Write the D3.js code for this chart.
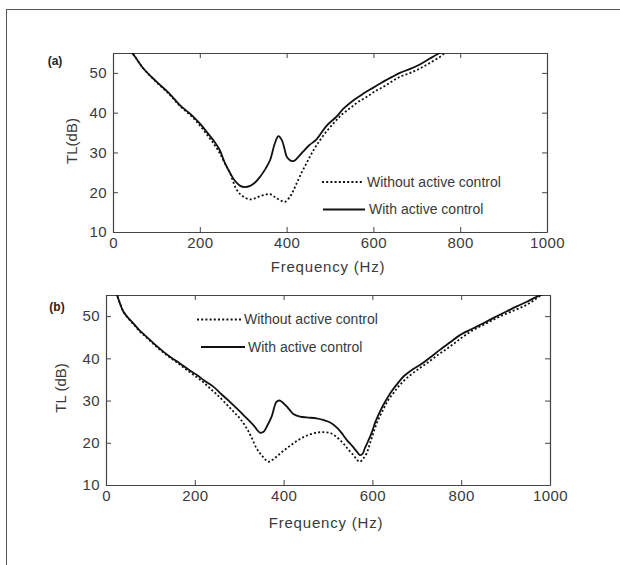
<!DOCTYPE html>
<html>
<head>
<meta charset="utf-8">
<script src="https://cdn.jsdelivr.net/npm/d3@7"></script>
<style>
  html, body { margin: 0; padding: 0; background: #fff; }
  svg { display: block; font-family: "Liberation Sans", Arial, sans-serif; }
</style>
</head>
<body>
<svg id="chart" width="620" height="565"></svg>
<script>
// ---------------- DATA ----------------
const xTicks = [0, 200, 400, 600, 800, 1000];
const yTicks = [10, 20, 30, 40, 50];
const seriesNames = ["Without active control", "With active control"];
const panelLabels = ["(a)", "(b)"];
const yLabels = ["TL(dB)", "TL (dB)"];
const xLabel = "Frequency (Hz)";

// Panel (a)
const freqA_with = [40,50,70,100,130,154,180,200,215,231,245,258,270,280,293,304,316,328,339,352,362,373,381,389,395,400,408,417,428,438,452,469,492,515,531,555,577,600,623,645,661,685,707,730,753,770];
const tlA_with   = [55.5,54.2,51.1,47.8,44.8,41.9,39.5,37.3,35.3,33.1,30.8,27.3,24.8,23.0,21.6,21.3,21.6,22.5,23.9,26.0,28.1,32.3,34.1,33.1,31.0,29.0,28.0,27.9,29.0,30.2,31.8,33.3,36.7,39.0,41.0,43.2,44.8,46.3,47.8,49.1,50.0,51.0,52.1,53.6,55.0,55.8];
const freqA_without = [40,50,70,100,130,154,180,200,220,235,246,258,270,285,300,316,328,339,352,362,370,377,387,396,408,415,423,434,446,458,469,487,508,527,546,565,585,604,623,642,661,685,707,730,753,765,775];
const tlA_without   = [55.5,54.2,51.1,47.7,44.6,41.7,39.2,36.8,34.0,31.7,29.8,27.2,24.7,20.6,18.9,18.2,18.5,19.0,19.4,19.5,19.0,18.5,17.9,17.6,18.9,20.3,22.2,24.8,27.3,29.8,31.8,34.6,37.3,39.5,41.1,42.7,44.0,45.4,46.5,47.8,49.0,50.0,51.1,52.5,54.0,55.0,55.6];

// Panel (b)
const freqB_with = [20,25.5,39,50,61.5,75,91.6,110,129,148,166.7,185,204,222,241.7,260,279,298,317,332,347,355,362,373,384,392,400,407,415,422,437,452,474,489,505,520,530,542,555,565,572,578,583,590,598,607,617,628,640,655,670,688,707,730,752,775,797,825,850,875,902,925,948,974,990];
const tlB_with   = [56.5,54.8,51.1,49.6,48.3,46.7,45.1,43.3,41.6,40.1,38.8,37.4,36.1,34.7,33.3,31.5,29.7,27.8,25.8,24.2,22.4,22.6,23.8,26.2,29.7,30.0,29.3,28.6,27.6,26.8,26.2,26.0,25.8,25.4,24.8,23.6,22.4,20.7,19.2,17.9,17.1,17.4,18.7,20.3,22.3,25.0,27.4,29.6,31.7,33.8,35.7,37.2,38.4,40.2,42.0,43.8,45.5,47.0,48.3,49.7,51.1,52.3,53.4,54.8,55.5];
const freqB_without = [20,25.5,39,50,61.5,75,91.6,110,129,148,166.7,185,204,222,235,249,268,287,302,317,328,339,347,354,360,366,374,384,395,407,420,437,455,474,490,505,518,534,545,557,565,572,579,587,595,602,612,624,635,647,661,677,700,722,750,775,800,827,857,887,918,948,970,980,990];
const tlB_without   = [56.5,54.8,51.1,49.5,48.1,46.5,44.9,43.1,41.4,39.9,38.5,37.0,35.6,34.1,32.8,31.5,29.5,27.4,25.7,23.4,21.2,18.7,17.5,16.6,15.9,15.5,15.9,16.7,17.7,18.7,19.7,20.9,21.8,22.4,22.5,22.3,21.5,19.9,18.5,17.1,16.0,15.5,16.2,17.5,20.0,22.3,25.2,27.8,30.0,31.7,33.6,35.3,37.2,38.8,41.0,42.8,44.8,46.7,48.3,49.9,51.3,52.7,54.2,55.0,55.5];

// ---------------- LAYOUT ----------------
const panels = [
  { left: 113, right: 547, top: 53, bottom: 232,
    label: panelLabels[0], labelPos: [55, 61],
    yLabel: yLabels[0], yLabelPos: [72, 141], xLabelY: 267,
    without: freqA_without.map((f, i) => [f, tlA_without[i]]),
    withC: freqA_with.map((f, i) => [f, tlA_with[i]]),
    legend: { x1: 322, x2: 362, y1: 182, sx1: 323, sx2: 365, y2: 209.5, tx1: 367, tx2: 369 } },
  { left: 106, right: 550, top: 295, bottom: 485,
    label: panelLabels[1], labelPos: [57, 307],
    yLabel: yLabels[1], yLabelPos: [61, 388], xLabelY: 523,
    without: freqB_without.map((f, i) => [f, tlB_without[i]]),
    withC: freqB_with.map((f, i) => [f, tlB_with[i]]),
    legend: { x1: 197, x2: 241, y1: 319.5, sx1: 201, sx2: 245, y2: 347, tx1: 244, tx2: 248 } }
];

const svg = d3.select("#chart");

// outer frame
svg.append("rect")
  .attr("x", 6.5).attr("y", 9.5)
  .attr("width", 700).attr("height", 700)
  .attr("fill", "none").attr("stroke", "#555").attr("stroke-width", 1);

const axisColor = "#444";
const textColor = "#3a3a3a";
const fmt = d3.format("d");

panels.forEach((p, pi) => {
  const x = d3.scaleLinear().domain([0, 1000]).range([p.left, p.right]);
  const y = d3.scaleLinear().domain([10, 55]).range([p.bottom, p.top]);
  const g = svg.append("g");

  const clipId = "clip" + pi;
  svg.append("clipPath").attr("id", clipId)
    .append("rect").attr("x", p.left).attr("y", p.top)
    .attr("width", p.right - p.left).attr("height", p.bottom - p.top);

  // axes
  const styleAxis = sel => {
    sel.selectAll("path.domain").attr("stroke", axisColor);
    sel.selectAll(".tick line").attr("stroke", axisColor);
    sel.selectAll(".tick text").attr("fill", textColor)
      .style("font-size", "15px").style("letter-spacing", "0.4px");
  };
  g.append("g").attr("transform", `translate(0,${p.bottom})`)
    .call(d3.axisBottom(x).tickValues(xTicks).tickFormat(fmt).tickSizeInner(-5).tickSizeOuter(0).tickPadding(5))
    .call(styleAxis);
  g.append("g").attr("transform", `translate(0,${p.top})`)
    .call(d3.axisTop(x).tickValues(xTicks).tickSizeInner(-5).tickSizeOuter(0).tickFormat(""))
    .call(styleAxis);
  g.append("g").attr("transform", `translate(${p.left},0)`)
    .call(d3.axisLeft(y).tickValues(yTicks).tickFormat(fmt).tickSizeInner(-5).tickSizeOuter(0).tickPadding(6))
    .call(styleAxis);
  g.append("g").attr("transform", `translate(${p.right},0)`)
    .call(d3.axisRight(y).tickValues(yTicks).tickSizeInner(-5).tickSizeOuter(0).tickFormat(""))
    .call(styleAxis);
  g.selectAll(".domain").attr("stroke-width", 1.2);

  // curves
  const line = d3.line().x(d => x(d[0])).y(d => y(d[1])).curve(d3.curveCatmullRom.alpha(0.5));
  g.append("path").datum(p.without)
    .attr("clip-path", `url(#${clipId})`)
    .attr("d", line).attr("fill", "none").attr("stroke", "#111")
    .attr("stroke-width", 1.8).attr("stroke-dasharray", "2,2.2");
  g.append("path").datum(p.withC)
    .attr("clip-path", `url(#${clipId})`)
    .attr("d", line).attr("fill", "none").attr("stroke", "#111")
    .attr("stroke-width", 1.8);

  // legend
  const L = p.legend;
  g.append("line").attr("x1", L.x1).attr("x2", L.x2).attr("y1", L.y1).attr("y2", L.y1)
    .attr("stroke", "#111").attr("stroke-width", 1.8).attr("stroke-dasharray", "2,2.2");
  g.append("text").attr("x", L.tx1).attr("y", L.y1).attr("dy", "0.35em")
    .attr("fill", textColor).style("font-size", "14px").text(seriesNames[0]);
  g.append("line").attr("x1", L.sx1).attr("x2", L.sx2).attr("y1", L.y2).attr("y2", L.y2)
    .attr("stroke", "#111").attr("stroke-width", 2.2);
  g.append("text").attr("x", L.tx2).attr("y", L.y2).attr("dy", "0.35em")
    .attr("fill", textColor).style("font-size", "14px").text(seriesNames[1]);

  // labels
  g.append("text").attr("x", p.labelPos[0]).attr("y", p.labelPos[1]).attr("dy", "0.35em")
    .attr("text-anchor", "middle").attr("fill", "#222")
    .style("font-size", "12px").style("font-weight", "bold").text(p.label);
  g.append("text")
    .attr("transform", `translate(${p.yLabelPos[0]},${p.yLabelPos[1]}) rotate(-90)`)
    .attr("text-anchor", "middle").attr("dy", "0.35em").attr("fill", textColor)
    .style("font-size", "15px").text(p.yLabel);
  g.append("text").attr("x", (p.left + p.right) / 2 - 2).attr("y", p.xLabelY).attr("dy", "0.35em")
    .attr("text-anchor", "middle").attr("fill", textColor)
    .style("font-size", "15px").style("letter-spacing", "0.8px").text(xLabel);
});
</script>
</body>
</html>
